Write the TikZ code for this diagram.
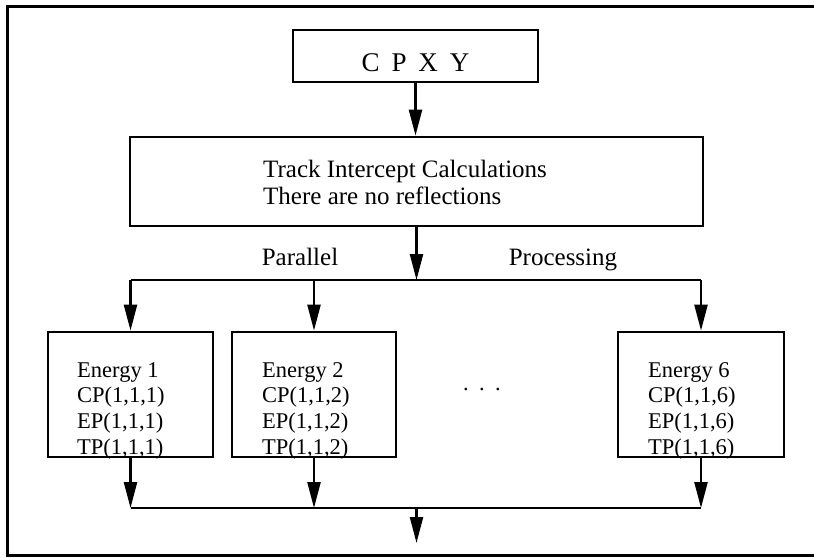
\documentclass[tikz,border=0pt]{standalone}
\usepackage{fontspec}
\setmainfont{Liberation Serif}
\usetikzlibrary{arrows.meta}
\begin{document}
\begin{tikzpicture}[x=1pt,y=-1pt,
  box/.style={draw, line width=2.8pt, inner sep=0pt, fill=none},
  conn/.style={line width=2.4pt},
  arr/.style={line width=2.4pt, -{Triangle[length=26pt,width=13pt]}},
  etext/.style={anchor=north west, inner sep=0pt, align=left, font={\fontsize{22.5}{25.7}\selectfont}},
  lbl/.style={anchor=base, inner sep=0pt, font={\fontsize{25}{28}\selectfont}}]
\useasboundingbox (0,0) rectangle (814,557);
\clip (0,0) rectangle (814,557);
% outer frame (right side lies beyond the picture)
\draw[line width=3pt] (830,6) -- (7,6) -- (7,555) -- (830,555);
% boxes
\node[box, minimum width=245pt, minimum height=52pt, text height=41pt, text depth=11pt,
      font={\fontsize{27}{30}\selectfont\spaceskip=0.44em\relax}] (cpxy) at (415.5,56) {C P X Y};
\node[box, minimum width=573pt, minimum height=89pt] (mid) at (416.5,181.5) {};
\node[anchor=north west, inner sep=0pt, align=left, font={\fontsize{25}{27}\selectfont}] (midtext) at (263,160)
  {Track Intercept Calculations\\There are no reflections};
\node[box, minimum width=165pt, minimum height=125pt] (e1) at (130.5,394.5) {};
\node[box, minimum width=164pt, minimum height=125pt] (e2) at (314,394.5) {};
\node[box, minimum width=166pt, minimum height=125pt] (e6) at (701,394.5) {};
\node[etext] (t1) at (77,362) {Energy 1\\CP(1,1,1)\\EP(1,1,1)\\TP(1,1,1)};
\node[etext] (t2) at (262,362) {Energy 2\\CP(1,1,2)\\EP(1,1,2)\\TP(1,1,2)};
\node[etext] (t6) at (648,362) {Energy 6\\CP(1,1,6)\\EP(1,1,6)\\TP(1,1,6)};
\node[anchor=base, inner sep=0pt, font={\fontsize{22.5}{25}\selectfont}] (dots) at (482,390)
  {.\hspace{0.46em}.\hspace{0.46em}.};
% labels
\node[lbl] (par) at (300,265) {Parallel};
\node[lbl] (proc) at (563,265) {Processing};
% coordinates
\coordinate (busc) at (416.5,280);
\coordinate (botc) at (416.5,508);
\coordinate (out) at (416.5,543);
% connectors
\draw[arr] (cpxy.south) -- (cpxy.south |- mid.north);
\draw[arr] (mid.south) -- (busc);
\draw[conn] (e1.north |- busc) -- (e6.north |- busc);
\draw[arr] (e1.north |- busc) -- (e1.north);
\draw[arr] (e2.north |- busc) -- (e2.north);
\draw[arr] (e6.north |- busc) -- (e6.north);
\draw[arr] (e1.south) -- (e1.south |- botc);
\draw[arr] (e2.south) -- (e2.south |- botc);
\draw[arr] (e6.south) -- (e6.south |- botc);
\draw[conn] (e1.south |- botc) -- (e6.south |- botc);
\draw[arr] (botc) -- (out);
\end{tikzpicture}
\end{document}
